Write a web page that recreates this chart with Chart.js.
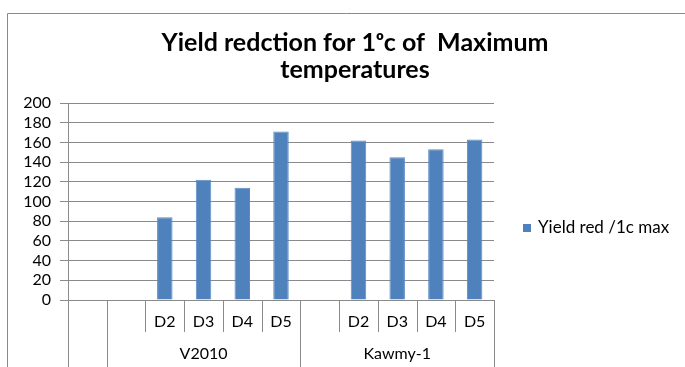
<!DOCTYPE html>
<html>
<head>
<meta charset="utf-8">
<script src="https://cdn.jsdelivr.net/npm/chart.js@4"></script>
<style>
  html, body { margin: 0; padding: 0; background: #fff; overflow: hidden; }
  #wrap { width: 685px; height: 367px; position: relative; }
</style>
</head>
<body>
<div id="wrap"><canvas id="chart" width="685" height="367"></canvas></div>
<script>
// Data
const subLabels = ['', '', 'D2', 'D3', 'D4', 'D5', '', 'D2', 'D3', 'D4', 'D5'];
const groupLabels = ['', 'V2010', 'Kawmy-1'];
const groupSpans = [1, 5, 5];
const yieldRed = [null, null, 84, 122, 114, 171, null, 162, 145, 153, 163];
const seriesName = 'Yield red /1c max';
const titleLines = ['Yield redction for 1\u1d52c of  Maximum', 'temperatures'];

const barColor = '#4f81bd';
const lineColor = '#8a8a8a';
const fontFamily = 'Lato, "Open Sans", sans-serif';

// Multi-level x axis, title, legend and frame
const extras = {
    id: 'extras',
    afterDraw(chart) {
        const ctx = chart.ctx;
        const x = chart.scales.x;
        const area = chart.chartArea;
        const half = (x.getPixelForValue(1) - x.getPixelForValue(0)) / 2;
        const edge = i => x.getPixelForValue(i) - half;
        const rowH = 32;

        ctx.save();
        ctx.strokeStyle = lineColor;
        ctx.lineWidth = 1;

        // group boundary indices
        const bounds = [0];
        groupSpans.forEach(s => bounds.push(bounds[bounds.length - 1] + s));

        for (let i = 0; i <= subLabels.length; i++) {
            const px = Math.round(edge(i)) + 0.5;
            const full = bounds.includes(i);
            ctx.beginPath();
            ctx.moveTo(px, area.bottom);
            ctx.lineTo(px, full ? chart.height : area.bottom + rowH);
            ctx.stroke();
        }

        ctx.fillStyle = '#000';
        ctx.font = '16px ' + fontFamily;
        ctx.textAlign = 'center';
        ctx.textBaseline = 'middle';
        subLabels.forEach((lab, i) => {
            if (lab) ctx.fillText(lab, x.getPixelForValue(i), area.bottom + 22);
        });
        groupLabels.forEach((lab, g) => {
            if (!lab) return;
            const cx = (edge(bounds[g]) + edge(bounds[g + 1])) / 2;
            ctx.fillText(lab, cx, area.bottom + 54);
        });

        // title
        ctx.font = 'bold 25px ' + fontFamily;
        ctx.fillText(titleLines[0], 355, 43);
        ctx.fillText(titleLines[1], 355, 70);

        // legend
        ctx.fillStyle = barColor;
        ctx.fillRect(523, 224, 8, 8);
        ctx.fillStyle = '#000';
        ctx.font = '17px ' + fontFamily;
        ctx.textAlign = 'left';
        ctx.fillText(seriesName, 538, 228);

        // outer frame
        ctx.strokeStyle = '#8a8a8a';
        ctx.beginPath();
        ctx.moveTo(7.5, chart.height);
        ctx.lineTo(7.5, 13.5);
        ctx.lineTo(chart.width, 13.5);
        ctx.stroke();
        ctx.restore();
    }
};

new Chart(document.getElementById('chart').getContext('2d'), {
    type: 'bar',
    data: {
        labels: subLabels.map((l, i) => i),
        datasets: [{
            label: seriesName,
            data: yieldRed,
            backgroundColor: barColor,
            borderColor: '#5b8cc6',
            borderWidth: 1,
            categoryPercentage: 1,
            barPercentage: 0.4
        }]
    },
    options: {
        responsive: false,
        animation: false,
        layout: {
            padding: { left: 0, top: 103, right: 191, bottom: 0 }
        },
        plugins: {
            legend: { display: false },
            title: { display: false },
            tooltip: { enabled: false }
        },
        scales: {
            x: {
                afterFit: s => { s.height = 67; },
                ticks: { display: false },
                grid: { display: false },
                border: { color: lineColor }
            },
            y: {
                min: 0,
                max: 200,
                afterFit: s => { s.width = 68; },
                ticks: {
                    stepSize: 20,
                    autoSkip: false,
                    color: '#000',
                    padding: 9,
                    font: { family: fontFamily, size: 16 }
                },
                grid: {
                    color: lineColor,
                    tickLength: 8
                },
                border: { color: lineColor }
            }
        }
    },
    plugins: [extras]
});
</script>
</body>
</html>
